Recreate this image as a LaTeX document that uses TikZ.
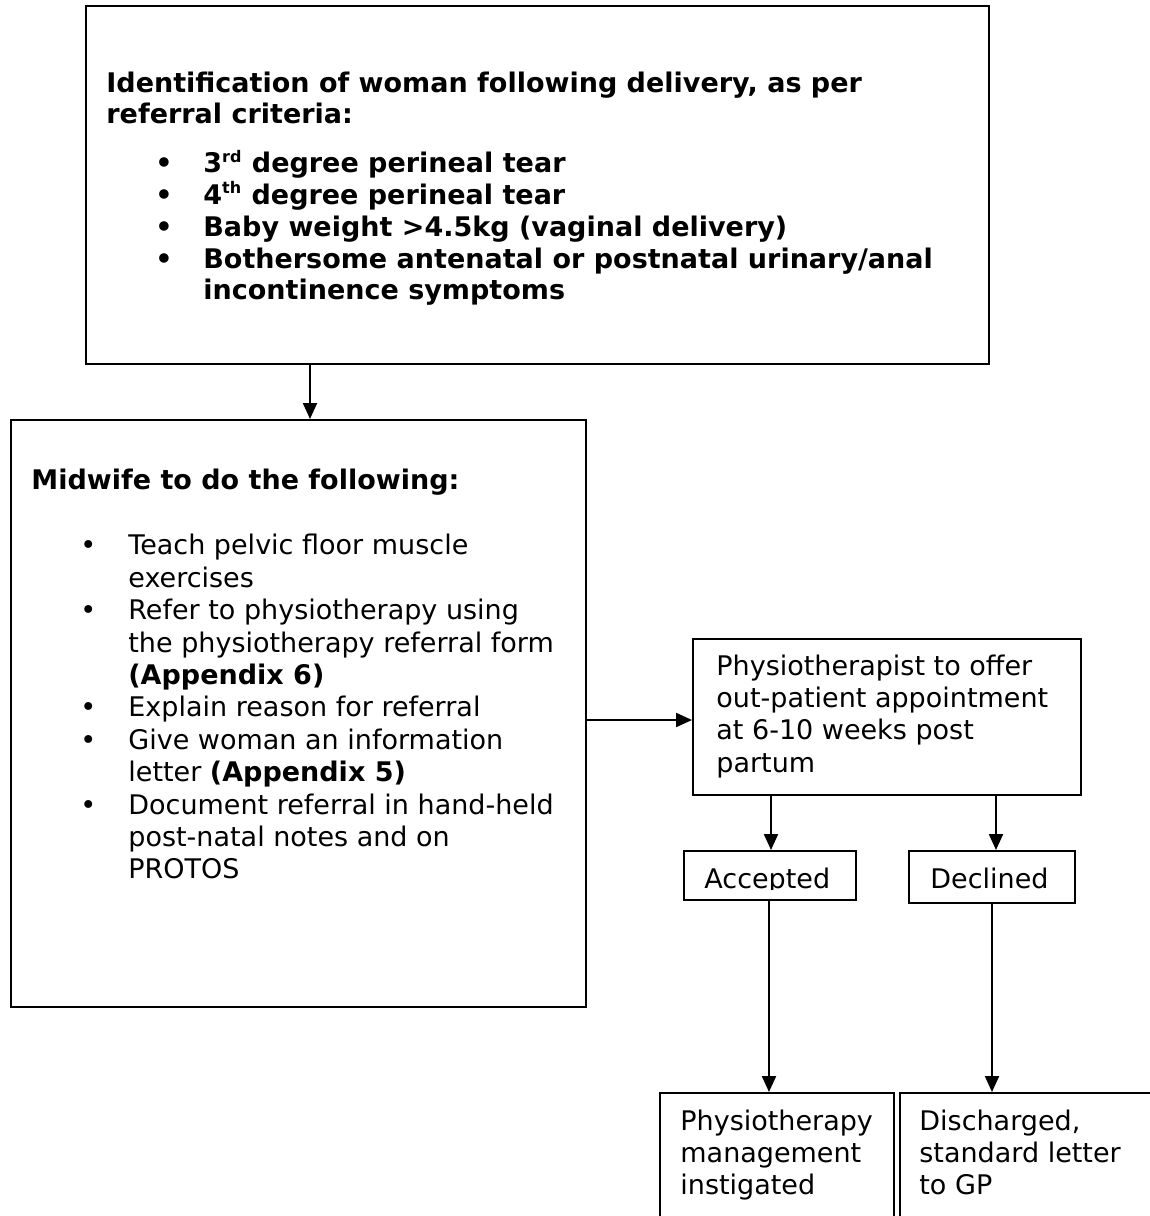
\documentclass[tikz,border=0pt]{standalone}
\usepackage{fontspec}
\setmainfont{DejaVu Sans}
\usetikzlibrary{arrows.meta}
\newcommand\bul{\hspace*{24.5pt}\makebox[24pt][l]{\textbullet}}
\newcommand\ind{\hspace*{48.5pt}}
\newcommand\sups[1]{\textsuperscript{\fontsize{8pt}{8pt}\selectfont #1}}
\begin{document}
\begin{tikzpicture}[x=0.5pt,y=-0.5pt,
  box/.style={draw, line width=1.1pt, inner sep=0pt, anchor=north west},
  txt/.style={anchor=base west, inner sep=0pt, font=\fontsize{13.5pt}{16.2pt}\selectfont},
  toptxt/.style={anchor=base west, inner sep=0pt, font=\fontsize{13.5pt}{15.9pt}\selectfont},
  arr/.style={-{Triangle[length=8pt,width=7pt]}, line width=1.1pt}]
\clip (0,0) rectangle (1150,1216);
% boxes
\node[box, minimum width=451.5pt, minimum height=179pt] (top) at (85,5) {};
\node[box, minimum width=287.5pt, minimum height=293.5pt] (mid) at (10,419) {};
\node[box, minimum width=194pt, minimum height=78pt] (phys) at (692,638) {};
\node[box, minimum width=86pt, minimum height=24.5pt] (acc) at (683,850) {};
\node[box, minimum width=83pt, minimum height=26pt] (dec) at (908,850) {};
\node[box, minimum width=117pt, minimum height=100pt] (pm) at (659,1092) {};
\node[box, minimum width=150pt, minimum height=100pt] (dis) at (899,1092) {};
% texts
\node[toptxt] (toptext) at (106,92) {\parbox[t]{470pt}{\bfseries
Identification of woman following delivery, as per\\
referral criteria:\\[8.5pt]
\bul 3\sups{rd} degree perineal tear\\
\bul 4\sups{th} degree perineal tear\\
\bul Baby weight >4.5kg (vaginal delivery)\\
\bul Bothersome antenatal or postnatal urinary/anal\\
\ind incontinence symptoms}};
\node[txt] (midtext) at (31,489) {\parbox[t]{280pt}{\textbf{Midwife to do the following:}\\[16.75pt]
\bul Teach pelvic floor muscle\\
\ind exercises\\
\bul Refer to physiotherapy using\\
\ind the physiotherapy referral form\\
\ind\textbf{(Appendix 6)}\\
\bul Explain reason for referral\\
\bul Give woman an information\\
\ind letter \textbf{(Appendix 5)}\\
\bul Document referral in hand-held\\
\ind post-natal notes and on\\
\ind PROTOS}};
\node[txt] (phystext) at (716,675) {\parbox[t]{190pt}{Physiotherapist to offer\\
out-patient appointment\\
at 6-10 weeks post\\
partum}};
\begin{scope}
\clip (683,850) rectangle (855,889);
\node[txt] (acctext) at (704,888) {Accepted};
\end{scope}
\node[txt] (dectext) at (930,888) {Declined};
\node[txt] (pmtext) at (680,1130) {\parbox[t]{115pt}{Physiotherapy\\
management\\
instigated}};
\node[txt] (distext) at (919,1130) {\parbox[t]{120pt}{Discharged,\\
standard letter\\
to GP}};
% connectors
\coordinate (c1) at (310,0);
\coordinate (c2) at (0,720);
\coordinate (c3) at (771,0);
\coordinate (c4) at (996,0);
\coordinate (c5) at (769,0);
\coordinate (c6) at (992,0);
\draw[arr] (top.south -| c1) -- (mid.north -| c1);
\draw[arr] (mid.east |- c2) -- (phys.west |- c2);
\draw[arr] (phys.south -| c3) -- (acc.north -| c3);
\draw[arr] (phys.south -| c4) -- (dec.north -| c4);
\draw[arr] (acc.south -| c5) -- (pm.north -| c5);
\draw[arr] (dec.south -| c6) -- (dis.north -| c6);
\end{tikzpicture}
\end{document}
